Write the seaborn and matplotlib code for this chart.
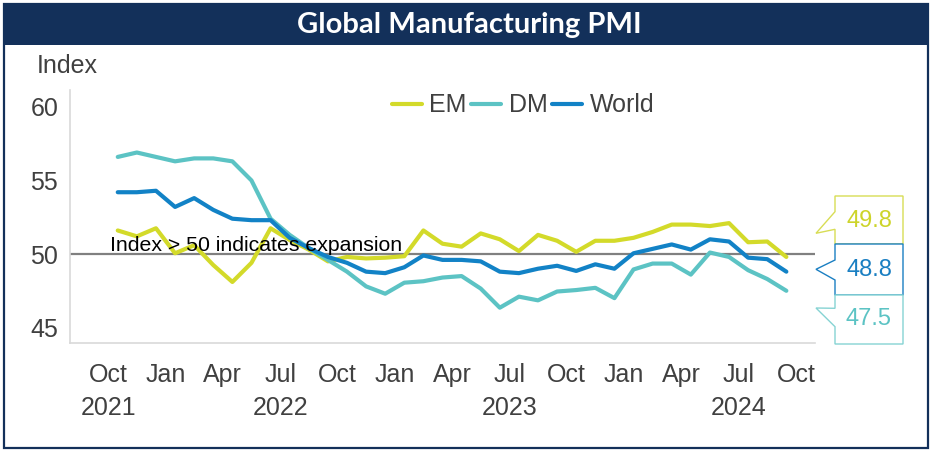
import numpy as np
import pandas as pd
import matplotlib
matplotlib.use("Agg")
import matplotlib.pyplot as plt
import seaborn as sns
from matplotlib.patches import Polygon, Rectangle

# ---------------- data ----------------
months = ["Oct 2021", "Nov 2021", "Dec 2021", "Jan 2022", "Feb 2022", "Mar 2022",
          "Apr 2022", "May 2022", "Jun 2022", "Jul 2022", "Aug 2022", "Sep 2022",
          "Oct 2022", "Nov 2022", "Dec 2022", "Jan 2023", "Feb 2023", "Mar 2023",
          "Apr 2023", "May 2023", "Jun 2023", "Jul 2023", "Aug 2023", "Sep 2023",
          "Oct 2023", "Nov 2023", "Dec 2023", "Jan 2024", "Feb 2024", "Mar 2024",
          "Apr 2024", "May 2024", "Jun 2024", "Jul 2024", "Aug 2024", "Sep 2024"]

em = [51.6, 51.2, 51.75, 50.05, 50.6, 49.25, 48.1, 49.4, 51.75, 50.95, 50.3, 49.5,
      49.8, 49.7, 49.75, 49.85, 51.6, 50.7, 50.5, 51.4, 51.0, 50.2, 51.3, 50.9,
      50.15, 50.9, 50.9, 51.1, 51.5, 52.0, 52.0, 51.9, 52.1, 50.8, 50.85, 49.8]

dm = [56.6, 56.9, 56.6, 56.3, 56.5, 56.5, 56.3, 55.0, 52.4, 51.3, 50.4, 49.6,
      48.8, 47.8, 47.3, 48.05, 48.15, 48.4, 48.5, 47.65, 46.35, 47.1, 46.85, 47.45,
      47.55, 47.7, 47.0, 48.95, 49.35, 49.35, 48.6, 50.1, 49.8, 48.9, 48.3, 47.5]

world = [54.2, 54.2, 54.3, 53.2, 53.8, 53.0, 52.4, 52.3, 52.3, 51.1, 50.4, 49.8,
         49.4, 48.8, 48.7, 49.1, 49.9, 49.6, 49.6, 49.5, 48.8, 48.7, 49.0, 49.2,
         48.85, 49.3, 49.0, 50.05, 50.35, 50.65, 50.3, 51.0, 50.85, 49.75, 49.65, 48.8]

series_names = ["EM", "DM", "World"]
series_colors = ["#d3da2a", "#5cc3c4", "#1282c6"]
label_colors = ["#cdd42a", "#5cc3c4", "#1a7fc2"]
box_colors = ["#d8dd55", "#1a7fc2", "#86d3d3"]

tick_labels = ["Oct\n2021", "Jan", "Apr", "Jul\n2022", "Oct", "Jan", "Apr",
               "Jul\n2023", "Oct", "Jan", "Apr", "Jul\n2024", "Oct"]
y_ticks = [45, 50, 55, 60]

# ---------------- data frame ----------------
pos = np.arange(len(months)) + 0.5   # mid-month positions, ticks at month starts
df = pd.concat([
    pd.DataFrame({"pos": pos, "value": vals, "series": name, "month": months})
    for name, vals in zip(series_names, [em, dm, world])
], ignore_index=True)

# ---------------- style ----------------
sns.set_style("white")
plt.rcParams["font.family"] = ["Liberation Sans", "DejaVu Sans"]

W, H = 932, 450
def fx(px):
    return px / W
def fy(py):
    return 1 - py / H

fig = plt.figure(figsize=(W / 100, H / 100), dpi=100)
ax = fig.add_axes([fx(70), fy(343), (815 - 70) / W, (343 - 90) / H])

sns.lineplot(data=df, x="pos", y="value", hue="series", hue_order=series_names,
             palette=dict(zip(series_names, series_colors)), linewidth=3,
             ax=ax, legend=True)

ax.axhline(50, color="#808080", lw=1.6, zorder=1)

ax.set_xlim(-2, 37)
ax.set_ylim(43.95, 61.15)
ax.set_xlabel("")
ax.set_ylabel("")

ax.set_xticks(np.arange(0, 37, 3))
ax.set_xticklabels(tick_labels, linespacing=1.5)
ax.set_yticks(y_ticks)
ax.set_yticklabels([str(v) for v in y_ticks])

ax.tick_params(axis="x", length=2.2, width=1, color="#bfbfbf", pad=12,
               labelsize=18, labelcolor="#404040")
ax.tick_params(axis="y", length=0, pad=8.5, labelsize=18, labelcolor="#404040")
for k, t in enumerate(ax.xaxis.get_major_ticks()):
    if tick_labels[k].startswith("Jan"):
        t.tick1line.set_markersize(6.5)

for s in ["top", "right"]:
    ax.spines[s].set_visible(False)
for s in ["left", "bottom"]:
    ax.spines[s].set_color("#d9d9d9")
    ax.spines[s].set_linewidth(1.2)

ax.text(0.1, 50.2, "Index > 50 indicates expansion", fontsize=15.3,
        color="black", ha="left", va="baseline")

# legend
handles, labels = ax.get_legend_handles_labels()
ax.legend(handles, labels, loc="center", bbox_to_anchor=(fx(523), fy(105.5)),
          bbox_transform=fig.transFigure, ncol=3, frameon=False, fontsize=18,
          handlelength=1.2, handletextpad=0.3, columnspacing=0.18,
          borderpad=0, labelcolor="#404040")

# axis title
fig.text(fx(37), fy(66), "Index", fontsize=18, color="#404040",
         ha="left", va="center")

# title bar and border
navy = "#13305a"
fig.add_artist(Rectangle((fx(4), fy(45)), (928 - 4) / W, (45 - 4) / H,
                         transform=fig.transFigure, facecolor=navy,
                         edgecolor="none", zorder=0))
fig.add_artist(Rectangle((fx(3.5), fy(448)), (927.5 - 3.5) / W, (448 - 3.5) / H,
                         transform=fig.transFigure, facecolor="none",
                         edgecolor=navy, lw=1.6, zorder=0))
fig.text(fx(469), fy(25), "Global Manufacturing PMI", fontsize=21,
         fontweight="bold", color="white", ha="center", va="center",
         family=["Lato", "DejaVu Sans"])

# callouts
last_vals = [em[-1], world[-1], dm[-1]]
call_order = [0, 2, 1]  # EM, World, DM top to bottom
shapes = [
    [(835, 196), (903, 196), (903, 244), (835, 244), (835, 229.3), (816, 233.3), (835, 211.7)],
    [(835, 244), (903, 244), (903, 295), (835, 295), (835, 280), (816, 269.3), (835, 260)],
    [(835, 295), (903, 295), (903, 344), (835, 344), (835, 326.7), (816, 308), (835, 308.3)],
]
text_y = [221, 270, 319]
for j, (idx, shp) in enumerate(zip(call_order, shapes)):
    pts = [(fx(x), fy(y)) for x, y in shp]
    fig.add_artist(Polygon(pts, closed=True, transform=fig.transFigure,
                           facecolor="white", edgecolor=box_colors[j], lw=1.0))
    fig.text(fx(869), fy(text_y[j]), f"{last_vals[j]:.1f}", fontsize=17,
             color=label_colors[idx], ha="center", va="center")

fig.savefig("out.png", dpi=100)
